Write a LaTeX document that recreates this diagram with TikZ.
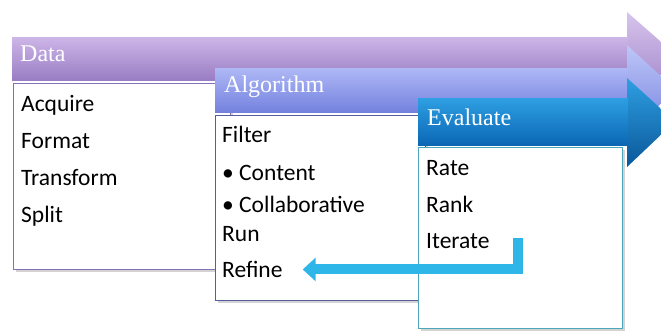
\documentclass[tikz,border=0pt]{standalone}
\usepackage{fontspec}
\setmainfont{Carlito}
\newfontfamily\titlefont{Liberation Serif}
\usetikzlibrary{arrows.meta,shadows}

\definecolor{dataTop}{HTML}{CDB6E8}
\definecolor{dataBot}{HTML}{9A7DC4}
\definecolor{dataLine}{HTML}{8470B4}
\definecolor{algTop}{HTML}{AEB8F6}
\definecolor{algBot}{HTML}{7482DE}
\definecolor{algLine}{HTML}{575C9C}
\definecolor{evalTop}{HTML}{2E9FE2}
\definecolor{evalBot}{HTML}{0B67B4}
\definecolor{evalLine}{HTML}{4CA7B8}
\definecolor{loopBlue}{HTML}{2FB6E8}

\begin{document}
\begin{tikzpicture}[x=1pt,y=-1pt, >={Triangle[length=13pt,width=23pt]}]
 \tikzstyle{item}=[anchor=base west,inner sep=0pt,font=\fontsize{23.5}{26}\selectfont]
 \tikzstyle{title}=[anchor=base west,inner sep=0pt,text=white,font=\titlefont\fontsize{24}{26}\selectfont]
 \tikzstyle{box}=[fill=white,line width=1.3pt,anchor=north west,inner sep=0pt,
   drop shadow={opacity=0.35,shadow xshift=2pt,shadow yshift=-2pt}]
 \useasboundingbox (0,0) rectangle (661,330);

 % Data
 \shade[top color=dataTop!80!white, bottom color=dataBot] (627,12) -- (680,58.5) -- (627,105) -- cycle;
 \shade[top color=dataTop, bottom color=dataBot] (12,37) rectangle (628,80);
 \node[box, draw=dataLine, minimum width=217pt, minimum height=186pt] (dataBox) at (13,83) {};
 \node[title] (data) at (20,61) {Data};
 \node[item] (acquire) at (21,111.5) {Acquire}; %vertical diff is 37
 \node[item] (format) at (21,148.5) {Format};
 \node[item] (transform) at (21,185.5) {Transform};
 \node[item] (split) at (21,222) {Split};

 % Algorithm
 \shade[top color=algTop!80!white, bottom color=algBot] (627,45) -- (676,90) -- (627,135) -- cycle;
 \shade[top color=algTop, bottom color=algBot] (215,68) rectangle (628,112);
 \node[box, draw=algLine, minimum width=210pt, minimum height=185pt] (algBox) at (215,115) {};
 \node[title] (algorithm) at (224,92.5) {Algorithm};
 \node[item] (filter) at (222,142) {Filter};
 \node[item] (content) at (222,180) {\textbullet\ Content};
 \node[item] (collab) at (222,212) {\textbullet\ Collaborative};
 \node[item] (run) at (222,241.5) {Run};
 \node[item] (refine) at (222,277.5) {Refine};

 % Evaluate
 \shade[top color=evalTop, bottom color=evalBot!85!black] (627,78) -- (675,121.5) -- (627,167) -- cycle;
 \shade[top color=evalTop, bottom color=evalBot] (418,98) rectangle (628,145);
 \node[box, draw=evalLine, minimum width=204pt, minimum height=181pt] (evalBox) at (418,147) {};
 \node[title] (evaluate) at (427,125) {Evaluate};
 \node[item] (rate) at (426,175) {Rate};
 \node[item] (rank) at (426,212) {Rank};
 \node[item] (iterate) at (426,248.5) {Iterate};

 % loop back
 \coordinate (iterTop) at (518,238);
 \coordinate (refineTip) at ([xshift=20pt]refine.east);
 \draw[->, loopBlue, line width=10pt] (iterTop) |- (refineTip);

\end{tikzpicture}
\end{document}
